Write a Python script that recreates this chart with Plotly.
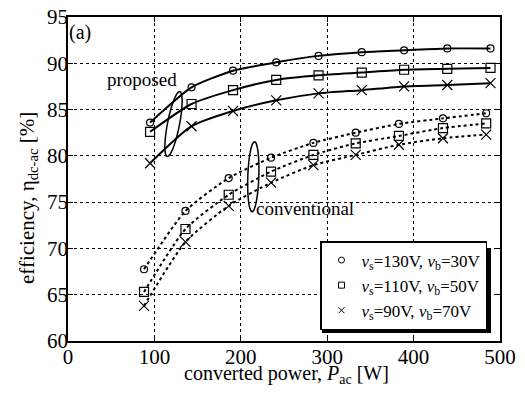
import math
import plotly.graph_objects as go

# ---- data ----
p_x = [95, 143, 191, 241, 290, 340, 389, 439, 489]
p_130 = [83.6, 87.4, 89.2, 90.1, 90.8, 91.2, 91.4, 91.6, 91.6]
p_110 = [82.6, 85.6, 87.1, 88.2, 88.7, 89.0, 89.3, 89.4, 89.5]
p_90 = [79.2, 83.2, 84.85, 86.0, 86.75, 87.1, 87.5, 87.65, 87.85]

c_x = [88, 136, 186, 235, 284, 333, 383, 434, 484]
c_130 = [67.75, 74.05, 77.6, 79.8, 81.4, 82.5, 83.45, 84.05, 84.6]
c_110 = [65.3, 72.1, 75.8, 78.3, 80.1, 81.35, 82.15, 83.0, 83.5]
c_90 = [63.8, 70.7, 74.6, 77.1, 79.0, 80.1, 81.2, 81.9, 82.3]

series_names = [
    "<i>v</i><sub>s</sub>=130V, <i>v</i><sub>b</sub>=30V",
    "<i>v</i><sub>s</sub>=110V, <i>v</i><sub>b</sub>=50V",
    "<i>v</i><sub>s</sub>=90V, <i>v</i><sub>b</sub>=70V",
]
symbols = ["circle-open", "square-open", "x-thin-open"]
sizes = [7, 9, 10]
x_ticks = [0, 100, 200, 300, 400, 500]
y_ticks = [60, 65, 70, 75, 80, 85, 90, 95]

FONT = "Liberation Serif, Times New Roman, serif"
OFF = 8                      # page body margin
W, H = 525 - OFF, 394 - OFF  # figure size inside the window
# plot area in window pixels
PX0, PX1, PY0, PY1 = 68, 500, 17, 341
L, T = PX0 - OFF, PY0 - OFF
R, B = W - (PX1 - OFF), H - (PY1 - OFF)
XR = [0, 500]
YR = [60, 95]
pw, ph = PX1 - PX0, PY1 - PY0

fig = go.Figure()

for xs, groups, dash in [(p_x, [p_130, p_110, p_90], "solid"),
                         (c_x, [c_130, c_110, c_90], "dot")]:
    for ys, sym, sz in zip(groups, symbols, sizes):
        fig.add_trace(go.Scatter(
            x=xs, y=ys, mode="lines+markers", showlegend=False,
            line=dict(color="black", width=2, dash=dash, shape="spline", smoothing=0.6),
            marker=dict(symbol=sym, size=sz, color="black", line=dict(color="black", width=1.2)),
        ))

# legend-only entries (small markers like the original)
for name, sym in zip(series_names, symbols):
    fig.add_trace(go.Scatter(
        x=[None], y=[None], mode="markers", name=name,
        marker=dict(symbol=sym, size=6, color="black", line=dict(color="black", width=1)),
    ))


def px2data(px, py):
    return (XR[0] + (px - PX0) / pw * (XR[1] - XR[0]),
            YR[1] - (py - PY0) / ph * (YR[1] - YR[0]))


def px2paper(px, py):
    return (px - PX0) / pw, (PY1 - py) / ph


def ellipse_path(cx, cy, a, b, tilt_deg):
    th = math.radians(tilt_deg)
    pts = []
    for i in range(73):
        t = 2 * math.pi * i / 72
        ex, ey = a * math.cos(t), b * math.sin(t)
        px = cx + ex * math.cos(th) + ey * math.sin(th)
        py = cy - ex * math.sin(th) + ey * math.cos(th)
        pts.append(px2data(px, py))
    return "M " + " L ".join(f"{x:.3f},{y:.4f}" for x, y in pts) + " Z"


sx0, sy0 = px2paper(322, 333)
sx1, sy1 = px2paper(491, 248)
shapes = [
    dict(type="path", xref="x", yref="y", path=ellipse_path(173.5, 124, 6, 33, -11),
         line=dict(color="black", width=1.5)),
    dict(type="path", xref="x", yref="y", path=ellipse_path(253.3, 176.7, 5.5, 35, -2),
         line=dict(color="black", width=1.5)),
    # legend shadow
    dict(type="rect", xref="paper", yref="paper", x0=sx0, x1=sx1, y0=sy0, y1=sy1,
         fillcolor="black", line=dict(width=0), layer="above"),
]

ytx, yty = px2paper(28, 198)
xtx, xty = px2paper(286, 374)
lgx, lgy = px2paper(487, 330)
annotations = [
    dict(x=14, y=93.3, text="(a)", showarrow=False, font=dict(size=20, family=FONT)),
    dict(x=85.6, y=88.2, text="proposed", showarrow=False, font=dict(size=19, family=FONT)),
    dict(x=274, y=74.3, text="conventional", showarrow=False, font=dict(size=19, family=FONT)),
    dict(xref="paper", yref="paper", x=xtx, y=xty, xanchor="center", yanchor="middle",
         text="converted power, <i>P</i><sub>ac</sub> [W]", showarrow=False,
         font=dict(size=20, family=FONT)),
    dict(xref="paper", yref="paper", x=ytx, y=yty, xanchor="center", yanchor="middle",
         text="efficiency, η<sub>dc-ac</sub> [%]", showarrow=False, textangle=-90,
         font=dict(size=21, family=FONT)),
]

axis_common = dict(
    showline=True, linecolor="black", linewidth=1.5, mirror="ticks",
    ticks="inside", ticklen=5, tickcolor="black", tickwidth=1.2,
    showgrid=True, gridcolor="black", gridwidth=1.2, griddash="dot",
    zeroline=False, automargin=False, ticklabeloverflow="allow",
    tickfont=dict(size=21, family=FONT, color="black"),
)

fig.update_layout(
    width=W, height=H,
    margin=dict(l=L, r=R, t=T, b=B, autoexpand=False),
    paper_bgcolor="white", plot_bgcolor="white",
    font=dict(family=FONT, color="black"),
    xaxis=dict(range=XR, tickvals=x_ticks, ticklabelstandoff=-4, **axis_common),
    yaxis=dict(range=YR, tickvals=y_ticks, ticklabelstandoff=-6, **axis_common),
    legend=dict(x=lgx, y=lgy, xanchor="right", yanchor="bottom",
                bgcolor="white", bordercolor="black", borderwidth=1.5,
                font=dict(size=17, family=FONT), itemwidth=30,
                tracegroupgap=0, traceorder="normal"),
    shapes=shapes, annotations=annotations,
)

fig.write_html("out.html")
